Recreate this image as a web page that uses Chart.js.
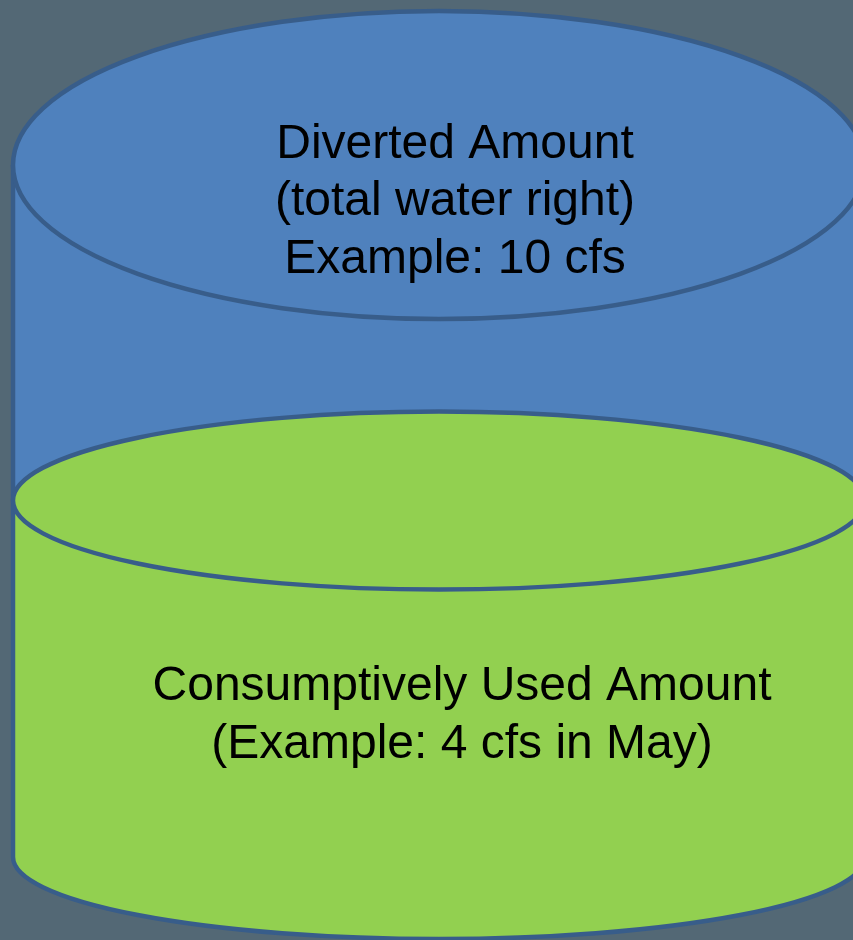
<!DOCTYPE html>
<html><head><meta charset="utf-8">
<script src="https://cdn.jsdelivr.net/npm/chart.js@4/dist/chart.umd.min.js"></script>
<style>
html,body{margin:0;padding:0;background:#536875;overflow:hidden;width:853px;height:940px}
#wrap{width:880px;height:940px}
</style>
</head><body><div id="wrap"><canvas id="c" width="880" height="940"></canvas></div>
<script>
// ---- data ----
const categories = ['Water right'];
const seriesLabels = ['Consumptively Used Amount', 'Diverted Amount'];
// fill levels of the cylinder (full cylinder height = 10, the total water right)
const consumptiveLevel = [5.15];
const divertedRemainder = [4.85];
const scaleMin = 0;
const scaleMax = 10;
const topText = ['Diverted Amount', '(total water right)', 'Example: 10 cfs'];
const bottomText = ['Consumptively Used Amount', '(Example: 4 cfs in May)'];

const BLUE = '#4f81bd', GREEN = '#92d050', EDGE = '#385d8a';

const cylinder = {
  id: 'cylinder',
  afterDatasetsDraw(chart, args, o) {
    const ctx = chart.ctx;
    const g = chart.getDatasetMeta(0).data[0];
    const b = chart.getDatasetMeta(1).data[0];
    const cx = g.x, rx = g.width / 2, left = cx - rx, right = cx + rx;
    const yBase = g.base, yMid = g.y, yTop = b.y;
    ctx.save();
    ctx.lineWidth = o.lineWidth;
    ctx.strokeStyle = o.edge;
    // bottom half ellipse
    ctx.beginPath();
    ctx.ellipse(cx, yBase, rx, o.ryBottom, 0, 0, Math.PI);
    ctx.fillStyle = GREEN; ctx.fill(); ctx.stroke();
    // sides
    ctx.beginPath();
    ctx.moveTo(left, yTop); ctx.lineTo(left, yBase);
    ctx.moveTo(right, yTop); ctx.lineTo(right, yBase);
    ctx.stroke();
    // green liquid surface
    ctx.beginPath();
    ctx.ellipse(cx, yMid, rx, o.ryMid, 0, 0, Math.PI * 2);
    ctx.fillStyle = GREEN; ctx.fill(); ctx.stroke();
    // top
    ctx.beginPath();
    ctx.ellipse(cx, yTop, rx, o.ryTop, 0, 0, Math.PI * 2);
    ctx.fillStyle = BLUE; ctx.fill(); ctx.stroke();
    // text
    ctx.fillStyle = '#000';
    ctx.textAlign = 'center';
    ctx.textBaseline = 'middle';
    ctx.font = o.font;
    const lh = o.lineHeight;
    const tY = yTop + o.topTextDy, tX = cx + o.topTextDx;
    topText.forEach((t, i) => ctx.fillText(t, tX, tY + (i - (topText.length - 1) / 2) * lh));
    const bY = (yMid + yBase) / 2 + o.bottomTextDy, bX = cx + o.bottomTextDx;
    bottomText.forEach((t, i) => ctx.fillText(t, bX, bY + (i - (bottomText.length - 1) / 2) * lh));
    ctx.restore();
  }
};

new Chart(document.getElementById('c'), {
  type: 'bar',
  data: {
    labels: categories,
    datasets: [
      { label: seriesLabels[0], data: consumptiveLevel, backgroundColor: GREEN, borderWidth: 0, barPercentage: 1, categoryPercentage: 1 },
      { label: seriesLabels[1], data: divertedRemainder, backgroundColor: BLUE, borderWidth: 0, barPercentage: 1, categoryPercentage: 1 }
    ]
  },
  options: {
    responsive: false,
    animation: false,
    events: [],
    layout: { padding: { left: 13, right: 15, top: 165, bottom: 83 } },
    scales: {
      x: { stacked: true, display: false },
      y: { stacked: true, display: false, min: scaleMin, max: scaleMax }
    },
    plugins: {
      legend: { display: false },
      tooltip: { enabled: false },
      cylinder: {
        edge: EDGE, lineWidth: 4.5,
        ryTop: 154, ryMid: 89, ryBottom: 82,
        font: '48px "Liberation Sans", Arial, sans-serif', lineHeight: 57.5,
        topTextDy: 37, topTextDx: 16, bottomTextDx: 23, bottomTextDy: 37
      }
    }
  },
  plugins: [cylinder]
});
</script>
</body></html>
